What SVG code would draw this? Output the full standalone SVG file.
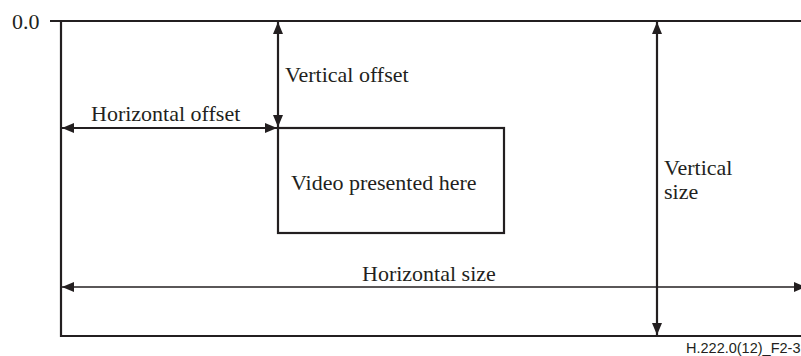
<svg xmlns="http://www.w3.org/2000/svg" width="801" height="356" viewBox="0 0 801 356">
<style>
.l{stroke:#231f20;stroke-width:2.2;fill:none}
.t{font-family:"Liberation Serif","Times New Roman",serif;font-size:22px;fill:#231f20}
.s{font-family:"Liberation Sans",Arial,sans-serif;font-size:14.5px;fill:#231f20}
</style>
<defs>
<marker id="a" viewBox="0 0 12 10" refX="12" refY="5" markerWidth="12" markerHeight="10" markerUnits="userSpaceOnUse" orient="auto-start-reverse">
<path d="M0,0 L12,5 L0,10 Z" fill="#231f20"/>
</marker>
</defs>
<rect width="801" height="356" fill="#fff"/>
<g id="frame">
<path class="l" d="M50,21 H801 M61,21 V336 H801"/>
</g>
<g id="video">
<rect class="l" x="278" y="128" width="226" height="105"/>
<text class="t" x="291" y="190">Video presented here</text>
</g>
<g id="origin"><text class="t" x="12" y="29">0.0</text></g>
<g id="connectors">
<line class="l" x1="278" y1="22" x2="278" y2="127" marker-start="url(#a)" marker-end="url(#a)"/>
<line class="l" x1="62" y1="128" x2="277" y2="128" marker-start="url(#a)" marker-end="url(#a)"/>
<line class="l" x1="657" y1="22" x2="657" y2="335" marker-start="url(#a)" marker-end="url(#a)"/>
<line class="l" style="stroke-width:1.6" x1="62" y1="287" x2="806" y2="287" marker-start="url(#a)" marker-end="url(#a)"/>
</g>
<g id="labels">
<text class="t" x="285" y="82">Vertical offset</text>
<text class="t" x="91" y="121">Horizontal offset</text>
<text class="t" x="664" y="175">Vertical</text>
<text class="t" x="664" y="199">size</text>
<text class="t" x="362" y="281">Horizontal size</text>
<text class="s" x="686" y="353">H.222.0(12)_F2-3</text>
</g>
</svg>
